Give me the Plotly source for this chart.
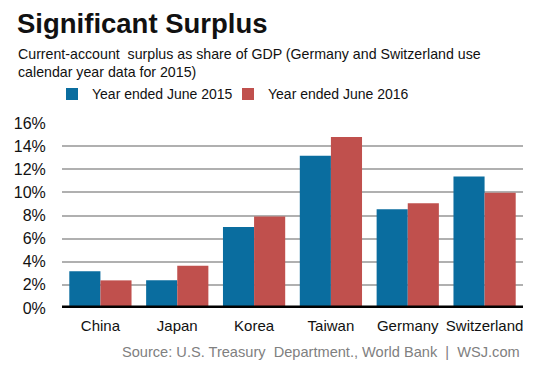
import plotly.graph_objects as go

categories = ["China", "Japan", "Korea", "Taiwan", "Germany", "Switzerland"]
series_2015 = [3.17, 2.4, 7.0, 13.16, 8.53, 11.38]
series_2016 = [2.39, 3.66, 7.92, 14.8, 9.05, 9.97]
series_names = ["Year ended June 2015", "Year ended June 2016"]
tick_vals = [0, 2, 4, 6, 8, 10, 12, 14, 16]
tick_text = ["0%", "2%", "4%", "6%", "8%", "10%", "12%", "14%", "16%"]

FONT = "Liberation Sans, Arial, sans-serif"
BLUE = "#0a6d9f"
RED = "#c0504d"

fig = go.Figure()
fig.add_trace(go.Bar(x=categories, y=series_2015, name=series_names[0], legend="legend",
                     marker=dict(color=BLUE, line=dict(width=0))))
fig.add_trace(go.Bar(x=categories, y=series_2016, name=series_names[1], legend="legend2",
                     marker=dict(color=RED, line=dict(width=0))))

L, R, T, B = 62, 30, 123, 61
W, H = 553, 369
pw, ph = W - L - R, H - T - B

def px(x):
    return (x - L) / pw

def py(y):
    return (H - B - y) / ph

leg_common = dict(orientation="h", yanchor="middle", xanchor="left",
                  font=dict(size=14, color="#111"), itemwidth=30,
                  bgcolor="rgba(0,0,0,0)")

fig.update_layout(
    width=W, height=H,
    margin=dict(l=L, r=R, t=T, b=B, pad=0, autoexpand=False),
    paper_bgcolor="white", plot_bgcolor="white",
    barmode="group", bargap=0.19, bargroupgap=0,
    font=dict(family=FONT, color="#111"),
    showlegend=True,
    legend=dict(x=px(52), y=py(94.3), **leg_common),
    legend2=dict(x=px(228), y=py(94.3), **leg_common),
    xaxis=dict(showgrid=False, showline=False, ticks="outside", ticklen=4,
               tickcolor="rgba(0,0,0,0)", tickfont=dict(size=15, color="#111"),
               automargin=False),
    yaxis=dict(range=[0, 16], tickvals=tick_vals, ticktext=tick_text, showgrid=True,
               gridcolor="#b0b0b0", gridwidth=1.5, zeroline=False, showline=False,
               ticks="outside", ticklen=12, tickcolor="rgba(0,0,0,0)",
               tickfont=dict(size=16, color="#111"), automargin=False),
)

fig.add_shape(type="line", xref="paper", yref="y", x0=0, x1=1, y0=0, y1=0,
              line=dict(color="black", width=5), layer="above")

fig.add_annotation(text="<b>Significant Surplus</b>", xref="paper", yref="paper",
                   x=px(15), y=py(23.5), xanchor="left", yanchor="middle", showarrow=False,
                   font=dict(size=27.5, color="#111", family=FONT))
fig.add_annotation(text="Current-account  surplus as share of GDP (Germany and Switzerland use"
                        "<br>calendar year data for 2015)",
                   xref="paper", yref="paper", x=px(15.5), y=py(62.5), xanchor="left",
                   yanchor="middle", align="left", showarrow=False,
                   font=dict(size=14.2, color="#111", family=FONT))
fig.add_annotation(text="Source: U.S. Treasury  Department., World Bank  |  WSJ.com",
                   xref="paper", yref="paper", x=px(522), y=py(351.7), xanchor="right",
                   yanchor="middle", showarrow=False, font=dict(size=14.6, color="#808080", family=FONT))

fig.write_html("out.html", config={"displayModeBar": False},
               post_script="document.body.style.margin='0';")
